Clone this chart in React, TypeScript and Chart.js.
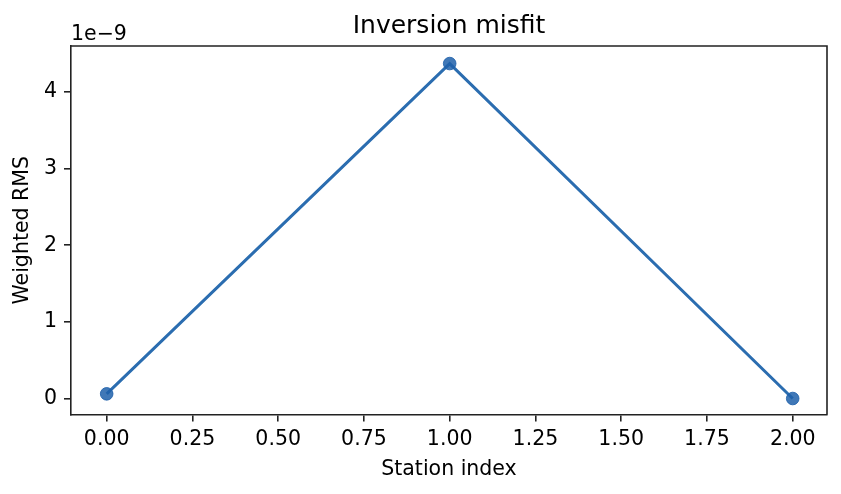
import { useEffect, useRef } from 'react';
import { Chart, ChartConfiguration, Plugin, registerables } from 'chart.js';

Chart.register(...registerables);

const stationIndex = [0, 1, 2];
const weightedRms = [6.1e-11, 4.37e-9, 0.0];
const xTicks = [0, 0.25, 0.5, 0.75, 1.0, 1.25, 1.5, 1.75, 2.0];
const yTicks = [0, 1e-9, 2e-9, 3e-9, 4e-9];

const FONT = "'DejaVu Sans', sans-serif";
const INK = '#222222';

// text and the top/right spines drawn like matplotlib does
const decorations: Plugin = {
  id: 'decorations',
  afterDraw(chart) {
    const { ctx, chartArea } = chart;
    const midX = (chartArea.left + chartArea.right) / 2;
    const midY = (chartArea.top + chartArea.bottom) / 2;
    ctx.save();
    ctx.strokeStyle = INK;
    ctx.lineWidth = 1.6;
    ctx.beginPath();
    ctx.moveTo(chartArea.left, chartArea.top);
    ctx.lineTo(chartArea.right, chartArea.top);
    ctx.lineTo(chartArea.right, chartArea.bottom);
    ctx.stroke();

    ctx.fillStyle = '#000';
    ctx.textAlign = 'center';
    ctx.textBaseline = 'alphabetic';
    ctx.font = `25px ${FONT}`;
    ctx.fillText('Inversion misfit', midX, 33);
    ctx.font = `20.5px ${FONT}`;
    ctx.fillText('Station index', midX, 475);
    ctx.textAlign = 'left';
    ctx.fillText('1e\u22129', chartArea.left, 40);
    ctx.translate(28, midY);
    ctx.rotate(-Math.PI / 2);
    ctx.textAlign = 'center';
    ctx.fillText('Weighted RMS', 0, 0);
    ctx.restore();
  },
};

export default function App() {
  const chartRef = useRef<HTMLCanvasElement>(null);
  const chartInstanceRef = useRef<Chart | null>(null);

  useEffect(() => {
    document.body.style.margin = '0';
    if (!chartRef.current) return;
    const ctx = chartRef.current.getContext('2d');
    if (!ctx) return;
    if (chartInstanceRef.current) chartInstanceRef.current.destroy();

    const config: ChartConfiguration = {
      type: 'line',
      data: {
        datasets: [
          {
            data: stationIndex.map((x, i) => ({ x, y: weightedRms[i] })),
            borderColor: '#2b6db0',
            borderWidth: 3,
            pointRadius: 6.3,
            pointHoverRadius: 6.3,
            pointBackgroundColor: 'rgba(31, 96, 170, 0.85)',
            pointBorderColor: 'rgba(31, 96, 170, 0.85)',
            pointBorderWidth: 1,
            tension: 0,
          },
        ],
      },
      options: {
        responsive: false,
        animation: false,
        events: [],
        layout: { padding: { top: 46, right: 14, left: 0, bottom: 0 } },
        plugins: {
          legend: { display: false },
          tooltip: { enabled: false },
          title: { display: false },
        },
        scales: {
          x: {
            type: 'linear',
            min: -0.104,
            max: 2.1,
            afterFit: (scale) => {
              scale.height = 494 - 414.5;
            },
            afterBuildTicks: (scale) => {
              scale.ticks = xTicks.map((value) => ({ value }));
            },
            ticks: {
              color: '#000',
              font: { family: FONT, size: 20.5 },
              padding: 6,
              maxRotation: 0,
              autoSkip: false,
              callback: (v) => Number(v).toFixed(2),
            },
            grid: {
              display: true,
              drawOnChartArea: false,
              drawTicks: true,
              tickLength: 7,
              color: INK,
              lineWidth: 1.6,
            },
            border: { display: true, color: INK, width: 1.6 },
          },
          y: {
            type: 'linear',
            min: -0.2085e-9,
            max: 4.599e-9,
            afterFit: (scale) => {
              scale.width = 71;
            },
            afterBuildTicks: (scale) => {
              scale.ticks = yTicks.map((value) => ({ value }));
            },
            ticks: {
              color: '#000',
              font: { family: FONT, size: 20.5 },
              padding: 7,
              autoSkip: false,
              callback: (v) => String(Math.round(Number(v) / 1e-9)),
            },
            grid: {
              display: true,
              drawOnChartArea: false,
              drawTicks: true,
              tickLength: 7,
              color: INK,
              lineWidth: 1.6,
            },
            border: { display: true, color: INK, width: 1.6 },
          },
        },
      },
      plugins: [decorations],
    };

    chartInstanceRef.current = new Chart(ctx, config);
    return () => {
      if (chartInstanceRef.current) {
        chartInstanceRef.current.destroy();
        chartInstanceRef.current = null;
      }
    };
  }, []);

  return <canvas ref={chartRef} width={841} height={494} style={{ display: 'block' }} />;
}
